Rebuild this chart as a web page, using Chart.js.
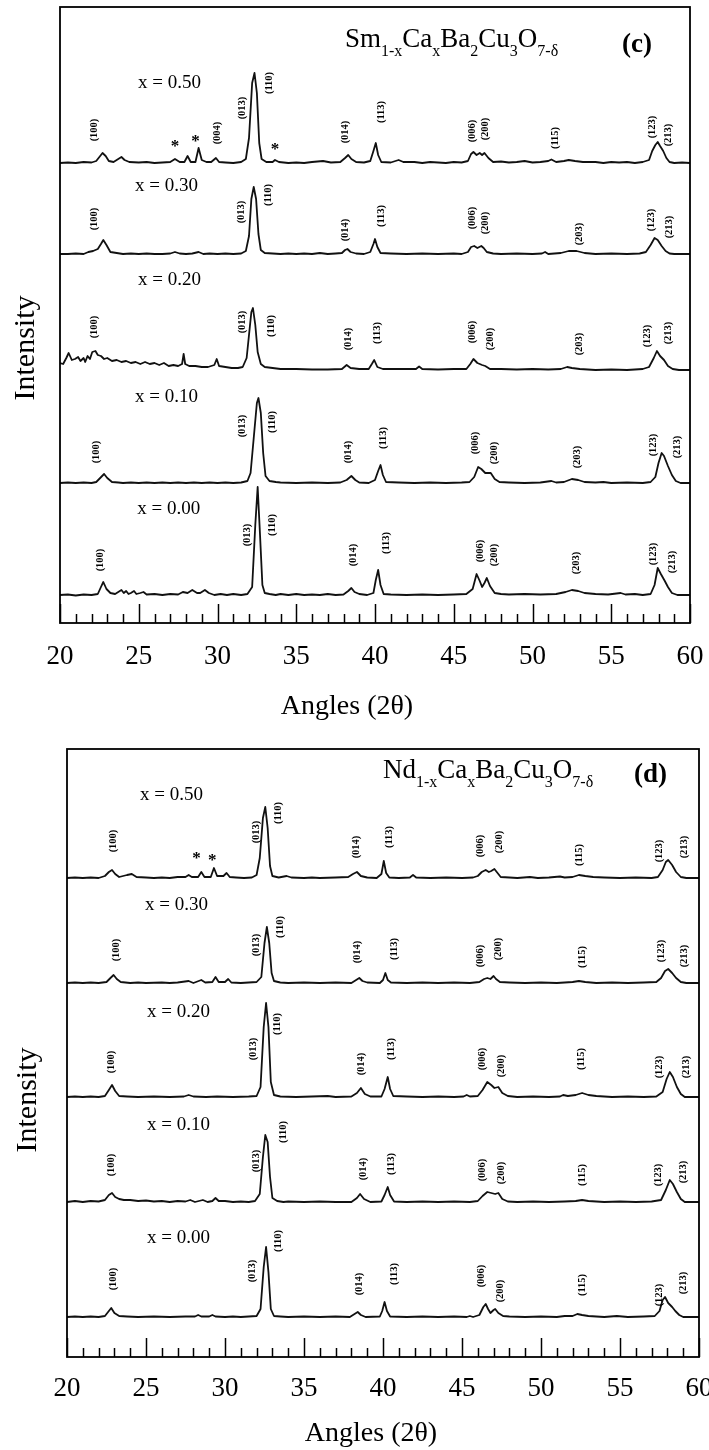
<!DOCTYPE html>
<html>
<head>
<meta charset="utf-8">
<script src="https://cdn.jsdelivr.net/npm/chart.js@4.4.1/dist/chart.umd.min.js"></script>
<style>
  html, body { margin: 0; padding: 0; background: #fff; }
  canvas { display: block; }
</style>
</head>
<body>
<canvas id="chart-c" width="709" height="730"></canvas>
<canvas id="chart-d" width="709" height="720"></canvas>
<script>
// ---- data (intensity in arbitrary units above each trace's baseline) ----
const angleTicks = [20, 25, 30, 35, 40, 45, 50, 55, 60];
const compLabels = ['x = 0.50', 'x = 0.30', 'x = 0.20', 'x = 0.10', 'x = 0.00'];

// panel (c) Sm1-xCaxBa2Cu3O7-d, traces top to bottom
const smOffsets = [460, 369, 253, 140, 28];
const sm050 = [[20,0],[20.5,0.5],[21,0],[21.5,1],[22,0.5],[22.3,2],[22.5,6],[22.7,10],[22.9,7],[23.1,2],[23.4,1],[23.7,4],[23.9,6],[24.1,3],[24.4,1],[25,0.5],[25.5,1],[26,0],[26.5,0.5],[27,1],[27.3,4],[27.6,1],[27.9,1],[28.1,7],[28.3,1],[28.6,1],[28.8,15],[29,3],[29.3,1],[29.6,1],[29.9,5],[30.1,1],[30.5,0.5],[31,0],[31.5,1],[31.8,4],[32,25],[32.2,80],[32.35,90],[32.5,70],[32.65,20],[32.8,4],[33.1,1],[33.5,1],[33.65,3],[33.9,1],[34.5,0],[35,0.5],[35.5,0],[36,1],[36.7,2],[37.2,0.5],[37.8,1],[38.1,5],[38.3,8],[38.5,4],[38.8,1],[39.3,0.5],[39.7,2],[39.9,12],[40.05,20],[40.2,8],[40.4,1],[41,0.5],[41.5,3],[41.8,1],[42.5,1],[43,0],[43.5,1],[44,0.5],[44.5,0],[45,1],[45.5,0.5],[45.9,2],[46.1,9],[46.25,11],[46.45,8],[46.65,10],[46.8,8],[46.95,10],[47.2,5],[47.5,1],[48,1.5],[48.5,0.5],[49,1],[49.5,2],[50,0.5],[50.5,1],[51,2],[51.2,3.5],[51.5,1],[52,2],[52.3,3],[52.7,2],[53.2,1],[54,1],[54.5,0],[55,1],[55.5,0.5],[56,1],[56.5,0],[57,1],[57.4,3],[57.6,12],[57.8,18],[57.95,21],[58.1,17],[58.3,12],[58.5,5],[58.7,1],[59,0],[59.5,0.5],[60,0]];
const sm030 = [[20,0],[20.5,0],[21,0.5],[21.5,0],[21.8,2],[22.1,3],[22.4,5],[22.6,10],[22.75,14],[22.95,9],[23.2,2],[23.6,1],[24,0],[24.5,0.5],[25,0],[25.5,0.5],[26,0],[26.5,0],[27,0.5],[27.3,2],[27.6,0.5],[28,0],[28.4,0.5],[28.8,2],[29.1,0],[29.5,0.5],[30,0],[30.5,0.5],[31,0],[31.5,0.5],[31.8,3],[32,18],[32.15,55],[32.3,67],[32.45,55],[32.6,20],[32.75,4],[33,1],[33.5,0.5],[34,0],[34.5,0.5],[35,0],[35.5,0.5],[36,0],[36.5,1],[37,0],[37.5,0.5],[37.9,1],[38.1,4],[38.25,5],[38.45,2],[38.8,0.5],[39.3,0],[39.7,2],[39.9,10],[40,15],[40.15,7],[40.35,1],[41,0.5],[42,0],[43,0.5],[44,0],[45,0.5],[45.5,0],[45.9,2],[46.1,7],[46.3,8],[46.5,6],[46.75,8],[46.9,6],[47.1,2],[47.5,0.5],[48,0],[49,0.5],[50,0],[50.6,0.5],[50.8,2],[51,0],[51.8,1],[52.3,3],[52.8,3],[53.3,1],[54,0],[55,0.5],[56,0],[56.8,0.5],[57.2,2],[57.5,9],[57.75,16],[57.95,14],[58.2,8],[58.45,3],[58.7,0.5],[59,0],[60,0]];
const sm020 = [[20,7],[20.2,6],[20.4,12],[20.55,17],[20.75,10],[20.95,11],[21.15,13],[21.3,9],[21.5,12],[21.6,8],[21.75,14],[21.9,11],[22.05,18],[22.25,19],[22.4,15],[22.6,14],[22.8,11],[23,12],[23.3,9],[23.6,10],[23.9,8],[24.2,9],[24.5,7],[24.8,8],[25.1,6],[25.4,8],[25.7,6],[26,7],[26.3,5],[26.6,7],[26.9,4],[27.2,5],[27.5,4],[27.75,6],[27.85,16],[27.95,6],[28.2,4],[28.6,4],[29,3],[29.4,3],[29.8,5],[29.95,11],[30.1,4],[30.5,3],[30.9,2],[31.3,2],[31.6,3],[31.85,12],[32,35],[32.15,58],[32.25,62],[32.4,45],[32.55,18],[32.75,6],[33,3],[33.5,2],[34,1],[35,1],[36,0.5],[37,0.5],[37.9,1],[38.2,5],[38.45,2],[39,1],[39.6,1],[39.8,6],[39.95,10],[40.15,3],[40.5,1],[41.5,1],[42.6,1],[42.8,3.5],[43,1],[44,0.5],[45,1],[45.8,1],[46.05,6],[46.25,11],[46.5,7],[46.8,5],[47,4],[47.3,1],[48,1],[49,0.5],[50,1],[51,0.5],[51.8,1],[52.2,3],[52.5,2],[53,1],[54,0],[55,0.5],[56,0],[57,1],[57.4,3],[57.7,12],[57.9,19],[58.1,14],[58.35,10],[58.6,4],[58.9,1],[59.3,0],[60,0]];
const sm010 = [[20,0],[20.5,0.5],[21,0],[21.5,0.5],[22,0],[22.3,1],[22.55,5],[22.8,9],[23,5],[23.3,1],[23.7,0.5],[24,0],[24.5,0.5],[25,0],[25.5,0.5],[26,0],[26.5,0.5],[27,0],[27.5,0.5],[28,0],[28.5,0.5],[29,0],[29.5,0.5],[30,0],[30.5,0.5],[31,0],[31.5,0.5],[31.9,2],[32.1,10],[32.3,45],[32.5,80],[32.6,85],[32.75,70],[32.9,30],[33.05,7],[33.3,2],[33.7,1],[34,0.5],[35,0],[36,0.5],[37,0],[37.8,0.5],[38.2,3],[38.5,7],[38.75,3],[39,0.5],[39.6,0],[40,3],[40.2,12],[40.35,18],[40.5,8],[40.7,1],[41.5,0.5],[42.5,0],[43.5,0.5],[44.5,0],[45.5,0.5],[46,1],[46.3,6],[46.55,16],[46.75,14],[47,10],[47.35,10],[47.6,4],[47.9,1],[48.5,0.5],[49.5,0],[50.5,0.5],[51.2,2],[51.5,0.5],[52,1],[52.5,4],[52.9,3],[53.3,1],[54,0.5],[54.5,1],[55,0],[56,0.5],[57,0],[57.5,1],[57.8,6],[58,20],[58.2,30],[58.35,27],[58.6,17],[58.85,8],[59.1,2],[59.4,0],[60,0]];
const sm000 = [[20,0],[20.5,0.5],[21,-0.5],[21.5,0.5],[22,0],[22.4,1],[22.6,8],[22.75,13],[22.95,6],[23.2,2],[23.5,1],[23.7,3],[23.9,5],[24.05,2],[24.2,4],[24.35,1],[24.5,2],[24.7,4],[24.85,1],[25.1,2],[25.3,3],[25.5,0.5],[26,1],[26.5,0],[27,1],[27.5,0.5],[27.8,3],[28.1,2],[28.4,5],[28.7,2],[28.9,2],[29.2,5],[29.45,2],[29.8,0],[30.2,1],[30.6,0],[31,1],[31.5,0],[31.9,1],[32.2,8],[32.4,70],[32.55,108],[32.7,60],[32.85,10],[33,2],[33.3,1],[33.7,0],[34,1],[34.5,0],[35,1],[35.5,0],[36,0.5],[36.5,0],[37,1],[37.5,0],[38,0.5],[38.3,4],[38.5,7],[38.7,3],[39,1],[39.5,0],[39.9,2],[40.05,15],[40.2,25],[40.35,10],[40.55,1],[41,0.5],[42,0],[43,0.5],[44,0],[45,0.5],[45.8,1],[46.2,6],[46.45,21],[46.65,14],[46.8,8],[46.95,12],[47.1,17],[47.3,9],[47.6,2],[48,1],[48.5,0.5],[49.5,1],[50.5,0.5],[51.5,1],[52.1,3],[52.5,5],[52.9,4],[53.3,2],[54,1],[54.8,0.5],[55.6,2],[55.9,0.5],[56.5,1],[57,0],[57.5,1],[57.75,10],[57.95,27],[58.15,21],[58.4,14],[58.6,8],[58.85,2],[59.2,0],[60,0]];
const smTraces = [sm050, sm030, sm020, sm010, sm000];
// [label, angle, height above baseline]
const smPeakLabels = [
  [['(100)',22.2,33],['(004)',30.0,30],['(013)',31.55,55],['(110)',33.27,80],['(014)',38.1,31],['(113)',40.4,51],['(006)',46.2,32],['(200)',47.0,34],['(115)',51.45,25],['(123)',57.6,36],['(213)',58.6,28]],
  [['(100)',22.2,35],['(013)',31.5,42],['(110)',33.25,59],['(014)',38.1,24],['(113)',40.4,38],['(006)',46.2,36],['(200)',47.0,31],['(203)',53.0,20],['(123)',57.55,34],['(213)',58.7,27]],
  [['(100)',22.2,43],['(013)',31.55,48],['(110)',33.4,44],['(014)',38.3,31],['(113)',40.15,37],['(006)',46.2,38],['(200)',47.35,31],['(203)',53.0,26],['(123)',57.3,34],['(213)',58.6,37]],
  [['(100)',22.3,31],['(013)',31.6,57],['(110)',33.5,61],['(014)',38.3,31],['(113)',40.5,45],['(006)',46.35,40],['(200)',47.55,30],['(203)',52.85,26],['(123)',57.7,38],['(213)',59.2,36]],
  [['(100)',22.55,35],['(013)',31.9,60],['(110)',33.5,70],['(014)',38.6,40],['(113)',40.7,52],['(006)',46.7,44],['(200)',47.6,40],['(203)',52.8,32],['(123)',57.7,41],['(213)',58.85,33]]
];
const smStars = [[27.3,20],[28.6,25],[33.65,17]];
const smCompPos = [[24.95,80],[24.76,68],[24.95,90],[24.76,86],[24.9,86]];

// panel (d) Nd1-xCaxBa2Cu3O7-d, traces top to bottom
const ndOffsets = [479, 374, 260, 155, 40];
const nd050 = [[20,0],[20.5,0.5],[21,0],[21.5,0.5],[22,0],[22.4,2],[22.65,6],[22.85,8],[23.05,4],[23.3,1],[23.8,3],[24.1,4],[24.4,1],[25,0.5],[25.5,0],[26,0.5],[26.5,0],[27,1],[27.5,1],[27.7,3],[27.9,1],[28.3,1],[28.5,6],[28.7,1],[29.1,1],[29.3,10],[29.5,2],[29.9,2],[30.1,5],[30.3,1],[30.7,0.5],[31.2,0],[31.7,0.5],[32,3],[32.2,20],[32.4,60],[32.55,71],[32.7,50],[32.85,12],[33,2],[33.4,0.5],[33.9,2],[34.2,0.5],[35,0],[35.5,0.5],[36,0],[37,0.5],[37.8,1],[38.1,4],[38.35,6],[38.6,2],[39,0.5],[39.6,0],[39.9,4],[40.05,17],[40.2,5],[40.4,0.5],[41,0],[41.7,0.5],[41.9,3],[42.1,0.5],[43,0],[44,0.5],[45,0],[45.7,0.5],[46,2],[46.25,6],[46.5,8],[46.7,6],[46.85,7],[47.05,9],[47.2,6],[47.45,1],[48,0.5],[48.5,0],[49.3,1],[49.8,0],[50.5,0.5],[51.2,1.5],[51.5,0.5],[52,1],[52.4,3],[52.8,2],[53.3,1],[54,0.5],[55,0],[56,0.5],[57,0],[57.4,1],[57.7,8],[57.9,16],[58.05,18],[58.3,13],[58.55,6],[58.85,1],[59.2,0],[60,0]];
const nd030 = [[20,0],[20.5,0.5],[21,0],[21.5,0.5],[22,0],[22.5,1],[22.75,5],[22.95,8],[23.15,4],[23.4,1],[24,0],[24.5,0.5],[25,0],[26,0.5],[26.5,0],[27,0.5],[27.7,2],[28,0],[28.5,3],[28.75,0.5],[29.2,1],[29.4,6],[29.6,1],[30,1],[30.2,4],[30.4,0.5],[31,0],[31.5,0.5],[32,1],[32.3,6],[32.5,40],[32.65,56],[32.8,40],[32.95,10],[33.1,2],[33.5,0.5],[34,0],[35,0.5],[36,0],[37,0.5],[38,0],[38.3,3],[38.5,5],[38.7,2],[39,0.5],[39.8,0],[40,3],[40.15,10],[40.3,3],[40.5,0.5],[41.5,0],[42.5,0.5],[43.5,0],[44.5,0.5],[45.5,0],[46.1,1],[46.4,4],[46.6,5],[46.8,4],[47,7],[47.15,4],[47.4,1],[48,0.5],[49,0],[50,0.5],[51,0],[52,1],[52.4,2],[52.8,1],[53.5,0],[54.5,0.5],[55.5,0],[56.5,0.5],[57.3,1],[57.6,5],[57.85,12],[58.05,14],[58.3,10],[58.55,5],[58.85,1],[59.2,0],[60,0]];
const nd020 = [[20,0],[20.5,0.5],[21,0],[21.5,0.5],[22,0],[22.4,1],[22.65,7],[22.85,12],[23.05,6],[23.3,1],[23.8,0.5],[24.5,0],[25.5,0.5],[26.5,0],[27.4,0.5],[27.7,2],[28,0.5],[28.8,0],[29.5,0.5],[30.5,0],[31.5,0.5],[32,1],[32.25,10],[32.45,70],[32.6,94],[32.75,70],[32.9,15],[33.1,2],[33.5,0.5],[34.5,0],[35.5,0.5],[36.5,1],[37,0],[38,0.5],[38.35,4],[38.6,9],[38.85,3],[39.2,0.5],[39.9,0.5],[40.1,8],[40.3,20],[40.45,8],[40.65,1],[41.5,0.5],[42.5,0],[43.5,0.5],[44.5,0],[45.1,0.5],[45.3,2],[45.5,0.5],[46,1],[46.3,7],[46.6,15],[46.85,12],[47.05,9],[47.3,10],[47.55,4],[47.9,1],[48.5,0],[49.5,0.5],[50.5,0],[51.2,0.5],[51.4,2],[51.7,1],[52.2,2],[52.6,4],[53,2],[53.5,1],[54.5,0],[55.5,0.5],[56.5,0],[57.3,0.5],[57.7,5],[57.95,18],[58.15,25],[58.35,20],[58.6,10],[58.85,3],[59.1,0],[60,0]];
const nd010 = [[20,0],[20.5,1],[21,0],[21.5,1],[22,0.5],[22.4,2],[22.65,7],[22.85,9],[23.05,5],[23.3,3],[23.6,2],[24,2],[24.5,1],[25,1.5],[25.5,0.5],[26,1],[26.5,0],[27,1],[27.5,0.5],[27.8,2],[28.1,0],[28.6,2],[28.9,0],[29.2,1],[29.4,4],[29.6,1],[30,1],[30.5,0],[31,0.5],[31.5,0],[31.9,1],[32.2,8],[32.4,45],[32.55,67],[32.7,60],[32.85,25],[33,4],[33.3,1],[33.7,0],[34,0.5],[35,0],[36,0.5],[37,0],[38,0],[38.35,4],[38.55,8],[38.8,3],[39.2,0],[39.9,0.5],[40.1,7],[40.3,15],[40.45,7],[40.7,0.5],[41.5,0],[42.5,0.5],[43.5,0],[44.5,0.5],[45.5,0],[46,1],[46.3,6],[46.6,10],[46.85,9],[47.1,8],[47.3,9],[47.55,3],[47.9,0.5],[48.5,0],[49.5,0.5],[50.5,0],[51.5,0.5],[52.2,1],[52.6,2],[53,1],[54,0],[55,0.5],[56,0],[57,0.5],[57.6,2],[57.9,12],[58.15,22],[58.35,18],[58.6,10],[58.85,3],[59.1,0],[60,0]];
const nd000 = [[20,0],[20.5,0.5],[21,0],[21.5,0.5],[22,0],[22.4,1],[22.65,6],[22.8,9],[23,4],[23.3,1],[23.8,0.5],[24.5,0],[25.5,0.5],[26.5,0],[27.5,0.5],[28.1,0.5],[28.3,2],[28.5,0.5],[29,0.5],[29.2,2],[29.4,0.5],[30,0],[30.5,0.5],[31,0],[31.5,0.5],[32,1],[32.25,8],[32.45,50],[32.6,70],[32.75,45],[32.9,8],[33.1,1],[33.5,0.5],[34,0],[35,0.5],[36,0],[37,0.5],[37.9,0],[38.2,3],[38.4,5],[38.6,2],[38.9,0],[39.8,0.5],[39.95,6],[40.1,15],[40.25,6],[40.45,0.5],[41.5,0],[42.5,0.5],[43.5,0],[44.5,0.5],[45.3,0],[45.5,1],[45.7,0],[46.1,2],[46.35,10],[46.5,13],[46.65,8],[46.8,4],[47,7],[47.1,8],[47.3,4],[47.6,1],[48,0.5],[49,0],[50,0.5],[51,0],[51.5,1],[52,1],[52.3,3],[52.6,2],[53,1],[54,0],[54.8,1],[55.5,0],[56.5,0.5],[57.2,1],[57.5,6],[57.7,17],[57.85,20],[58.05,14],[58.3,10],[58.5,6],[58.75,2],[59,0],[60,0]];
const ndTraces = [nd050, nd030, nd020, nd010, nd000];
const ndPeakLabels = [
  [['(100)',22.95,37],['(013)',32.0,46],['(110)',33.35,65],['(014)',38.3,31],['(113)',40.4,41],['(006)',46.15,32],['(200)',47.35,36],['(115)',52.4,23],['(123)',57.5,27],['(213)',59.05,31]],
  [['(100)',23.1,33],['(013)',32.0,38],['(110)',33.5,56],['(014)',38.4,31],['(113)',40.7,34],['(006)',46.15,27],['(200)',47.3,34],['(115)',52.6,26],['(123)',57.6,32],['(213)',59.1,27]],
  [['(100)',22.8,35],['(013)',31.8,48],['(110)',33.3,73],['(014)',38.65,33],['(113)',40.55,48],['(006)',46.3,38],['(200)',47.5,31],['(115)',52.55,38],['(123)',57.5,30],['(213)',59.2,30]],
  [['(100)',22.8,37],['(013)',31.95,41],['(110)',33.7,70],['(014)',38.75,33],['(113)',40.55,38],['(006)',46.3,32],['(200)',47.5,29],['(115)',52.6,27],['(123)',57.4,27],['(213)',59.0,30]],
  [['(100)',22.9,38],['(013)',31.7,46],['(110)',33.4,76],['(014)',38.5,33],['(113)',40.7,43],['(006)',46.2,41],['(200)',47.45,26],['(115)',52.6,32],['(123)',57.5,22],['(213)',59.0,34]]
];
const ndStars = [[28.2,23],[29.2,21]];
const ndCompPos = [[24.62,83],[24.94,78],[25.06,85],[25.06,77],[25.06,79]];

const smFormula = [['Sm',0],['1-x',1],['Ca',0],['x',1],['Ba',0],['2',1],['Cu',0],['3',1],['O',0],['7-δ',1]];
const ndFormula = [['Nd',0],['1-x',1],['Ca',0],['x',1],['Ba',0],['2',1],['Cu',0],['3',1],['O',0],['7-δ',1]];

const SERIF = '"Liberation Serif", "Times New Roman", serif';
Chart.defaults.font.family = SERIF;
Chart.defaults.color = '#000';

function drawFormula(ctx, parts, x, y) {
  let cx = x;
  ctx.textAlign = 'left';
  ctx.textBaseline = 'alphabetic';
  parts.forEach(([txt, sub]) => {
    ctx.font = sub ? `16px ${SERIF}` : `27px ${SERIF}`;
    ctx.fillText(txt, cx, sub ? y + 9 : y);
    cx += ctx.measureText(txt).width;
  });
}

// draws the frame, inward ticks, peak indices and the panel texts
function makeDecor(cfg) {
  return {
    id: 'xrdDecor',
    afterDatasetsDraw(chart) {
      const { ctx, chartArea: a, scales: { x, y } } = chart;
      ctx.save();
      ctx.strokeStyle = '#000';
      ctx.fillStyle = '#000';
      ctx.lineWidth = 1.8;
      ctx.strokeRect(a.left, a.top, a.right - a.left, a.bottom - a.top);

      ctx.lineWidth = 1.5;
      for (let v = x.min; v <= x.max; v++) {
        const px = Math.round(x.getPixelForValue(v)) + 0.5;
        const len = v % 5 === 0 ? 19 : 9;
        ctx.beginPath();
        ctx.moveTo(px, a.bottom);
        ctx.lineTo(px, a.bottom - len);
        ctx.stroke();
      }

      ctx.font = `bold 10.5px ${SERIF}`;
      ctx.textAlign = 'center';
      ctx.textBaseline = 'middle';
      cfg.peaks.forEach((list, i) => {
        list.forEach(([t, ang, h]) => {
          const px = x.getPixelForValue(ang);
          const py = y.getPixelForValue(cfg.offsets[i] + h);
          ctx.save();
          ctx.translate(px, py);
          ctx.rotate(-Math.PI / 2);
          ctx.fillText(t, 0, 0);
          ctx.restore();
        });
      });

      ctx.font = `bold 17px ${SERIF}`;
      cfg.stars.forEach(([ang, h]) => {
        ctx.fillText('*', x.getPixelForValue(ang), y.getPixelForValue(cfg.offsets[0] + h) + 4);
      });

      ctx.font = `19px ${SERIF}`;
      ctx.textAlign = 'left';
      compLabels.forEach((t, i) => {
        const [ang, h] = cfg.compPos[i];
        ctx.fillText(t, x.getPixelForValue(ang), y.getPixelForValue(cfg.offsets[i] + h));
      });

      drawFormula(ctx, cfg.formula, cfg.formulaAt[0], cfg.formulaAt[1]);
      ctx.font = `bold 27px ${SERIF}`;
      ctx.textBaseline = 'alphabetic';
      ctx.fillText(cfg.letter, cfg.letterAt[0], cfg.letterAt[1]);

      ctx.font = `28px ${SERIF}`;
      ctx.textAlign = 'center';
      ctx.textBaseline = 'middle';
      ctx.fillText('Angles (2θ)', cfg.xTitleAt[0], cfg.xTitleAt[1]);

      ctx.font = `30px ${SERIF}`;
      ctx.save();
      ctx.translate(cfg.yTitleAt[0], cfg.yTitleAt[1]);
      ctx.rotate(-Math.PI / 2);
      ctx.fillText('Intensity', 0, 0);
      ctx.restore();
      ctx.restore();
    }
  };
}

function buildPanel(canvasId, cfg) {
  const datasets = cfg.traces.map((tr, i) => ({
    label: compLabels[i],
    data: tr.map(p => ({ x: p[0], y: p[1] + cfg.offsets[i] })),
    borderColor: '#111',
    borderWidth: 1.8,
    borderJoinStyle: 'round',
    pointRadius: 0,
    tension: 0,
    fill: false,
  }));
  return new Chart(document.getElementById(canvasId), {
    type: 'line',
    data: { datasets },
    options: {
      responsive: false,
      animation: false,
      events: [],
      layout: { padding: cfg.padding },
      plugins: { legend: { display: false }, tooltip: { enabled: false } },
      scales: {
        x: {
          type: 'linear',
          min: 20,
          max: 60,
          afterBuildTicks: s => { s.ticks = angleTicks.map(v => ({ value: v })); },
          afterFit: s => { s.height = cfg.xAxisHeight; s.paddingLeft = 0; s.paddingRight = 0; },
          grid: { display: false, drawTicks: false },
          border: { display: false },
          ticks: { font: { size: 27, family: SERIF }, color: '#000', padding: cfg.tickPad, maxRotation: 0 },
        },
        y: { type: 'linear', min: 0, max: cfg.yMax, display: false },
      },
    },
    plugins: [makeDecor(cfg)],
  });
}

buildPanel('chart-c', {
  traces: smTraces, offsets: smOffsets, peaks: smPeakLabels, stars: smStars, compPos: smCompPos,
  formula: smFormula, formulaAt: [345, 47], letter: '(c)', letterAt: [622, 52],
  xTitleAt: [347, 707], yTitleAt: [26, 348],
  padding: { left: 60, right: 19, top: 7, bottom: 0 }, xAxisHeight: 107, tickPad: 18, yMax: 616,
});

buildPanel('chart-d', {
  traces: ndTraces, offsets: ndOffsets, peaks: ndPeakLabels, stars: ndStars, compPos: ndCompPos,
  formula: ndFormula, formulaAt: [383, 48], letter: '(d)', letterAt: [634, 52],
  xTitleAt: [371, 704], yTitleAt: [28, 370],
  padding: { left: 67, right: 10, top: 19, bottom: 0 }, xAxisHeight: 93, tickPad: 16, yMax: 608,
});
</script>
</body>
</html>
